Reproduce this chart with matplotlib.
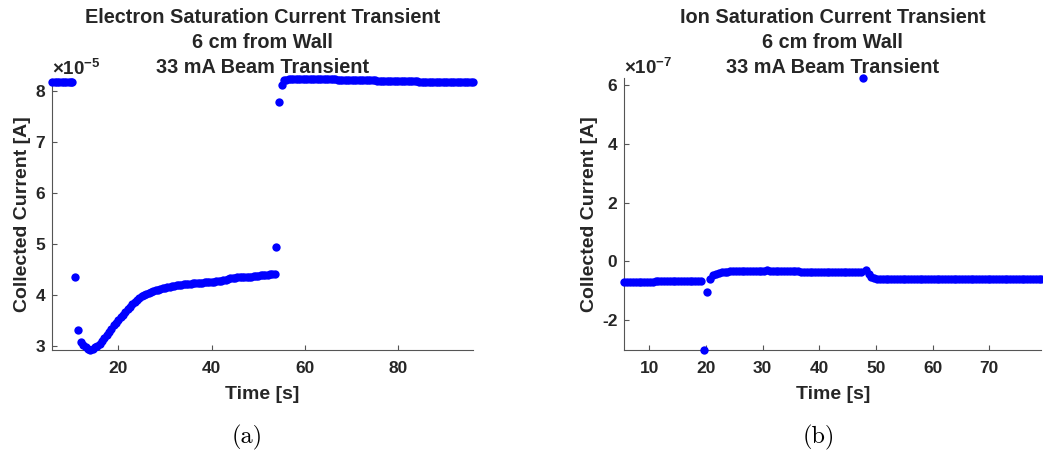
import matplotlib
matplotlib.use("Agg")
import matplotlib.pyplot as plt

plt.rcParams["font.family"] = ["Liberation Sans", "DejaVu Sans"]
plt.rcParams["mathtext.fontset"] = "custom"
plt.rcParams["mathtext.rm"] = "Liberation Sans:bold"
plt.rcParams["mathtext.bf"] = "Liberation Sans:bold"

TEXT = "#262626"
AXIS = "#555555"
BLUE = "#0000ff"

# Electron saturation current, in units of 1e-5 A
el_pre_t = [5.86, 6.36, 6.86, 7.36, 7.86, 8.36, 8.86, 9.36, 9.86, 10.1]
el_pre_i = [8.17, 8.17, 8.17, 8.16, 8.16, 8.16, 8.17, 8.16, 8.16, 8.16]

el_spike_t = [10.7, 11.4, 53.9, 54.5, 55.0]
el_spike_i = [4.35, 3.31, 4.93, 7.77, 8.10]

el_mid_t = [12.0, 12.5, 13.0, 13.5, 14.0, 14.5, 15.0, 15.5, 16.0, 16.5,
            17.0, 17.5, 18.0, 18.5, 19.0, 19.5, 20.0, 20.5, 21.0, 21.5,
            22.0, 22.5, 23.0, 23.5, 24.0, 24.5, 25.0, 25.5, 26.0, 26.5,
            27.0, 27.5, 28.0, 28.5, 29.0, 29.5, 30.0, 30.5, 31.0, 31.5,
            32.0, 32.5, 33.0, 33.5, 34.0, 34.5, 35.0, 35.5, 36.0, 36.5,
            37.0, 37.5, 38.0, 38.5, 39.0, 39.5, 40.0, 40.5, 41.0, 41.5,
            42.0, 42.5, 43.0, 43.5, 44.0, 44.5, 45.0, 45.5, 46.0, 46.5,
            47.0, 47.5, 48.0, 48.5, 49.0, 49.5, 50.0, 50.5, 51.0, 51.5,
            52.0, 52.5, 53.0, 53.5]
el_mid_i = [3.07, 3.02, 2.98, 2.94, 2.92, 2.94, 2.97, 3.00, 3.04, 3.09,
            3.15, 3.21, 3.28, 3.34, 3.40, 3.45, 3.50, 3.56, 3.61, 3.67,
            3.72, 3.77, 3.82, 3.86, 3.90, 3.94, 3.97, 3.99, 4.02, 4.04,
            4.06, 4.08, 4.09, 4.10, 4.12, 4.13, 4.14, 4.15, 4.16, 4.17,
            4.18, 4.19, 4.20, 4.20, 4.21, 4.21, 4.22, 4.22, 4.23, 4.23,
            4.24, 4.24, 4.24, 4.25, 4.25, 4.25, 4.26, 4.26, 4.27, 4.28,
            4.28, 4.29, 4.30, 4.31, 4.32, 4.33, 4.33, 4.34, 4.34, 4.34,
            4.34, 4.34, 4.34, 4.35, 4.36, 4.37, 4.37, 4.38, 4.38, 4.39,
            4.39, 4.40, 4.40, 4.40]

el_post_t = [55.5, 56.0, 56.5, 57.0, 57.5, 58.0, 58.5, 59.0, 59.5, 60.0,
             60.5, 61.0, 61.5, 62.0, 62.5, 63.0, 63.5, 64.0, 64.5, 65.0,
             65.5, 66.0, 66.5, 67.0, 67.5, 68.0, 68.5, 69.0, 69.5, 70.0,
             70.5, 71.0, 71.5, 72.0, 72.5, 73.0, 73.5, 74.0, 74.5, 75.0,
             75.5, 76.0, 76.5, 77.0, 77.5, 78.0, 78.5, 79.0, 79.5, 80.0,
             80.5, 81.0, 81.5, 82.0, 82.5, 83.0, 83.5, 84.0, 84.5, 85.0,
             85.5, 86.0, 86.5, 87.0, 87.5, 88.0, 88.5, 89.0, 89.5, 90.0,
             90.5, 91.0, 91.5, 92.0, 92.5, 93.0, 93.5, 94.0, 94.5, 95.0,
             95.5, 95.94]
el_post_i = [8.20, 8.21, 8.22, 8.225, 8.23, 8.23, 8.23, 8.23, 8.23, 8.23,
             8.23, 8.23, 8.23, 8.23, 8.23, 8.22, 8.22, 8.22, 8.22, 8.22,
             8.22, 8.22, 8.22, 8.21, 8.21, 8.21, 8.21, 8.21, 8.21, 8.21,
             8.21, 8.21, 8.20, 8.20, 8.20, 8.20, 8.20, 8.20, 8.20, 8.20,
             8.19, 8.19, 8.19, 8.19, 8.19, 8.19, 8.19, 8.19, 8.18, 8.18,
             8.18, 8.18, 8.18, 8.18, 8.18, 8.18, 8.18, 8.18, 8.17, 8.17,
             8.17, 8.17, 8.17, 8.17, 8.17, 8.17, 8.17, 8.17, 8.17, 8.17,
             8.16, 8.16, 8.16, 8.16, 8.16, 8.16, 8.16, 8.16, 8.16, 8.16,
             8.16, 8.16]

# Ion saturation current, in units of 1e-7 A
ion_pre_t = [5.6, 6.1, 6.6, 7.1, 7.6, 8.1, 8.6, 9.1, 9.6, 10.1,
             10.6, 11.1, 11.6, 12.1, 12.6, 13.1, 13.6, 14.1, 14.6, 15.1,
             15.6, 16.1, 16.6, 17.1, 17.6, 18.1, 18.6, 19.2]
ion_pre_i = [-0.715, -0.712, -0.71, -0.707, -0.705, -0.702, -0.70, -0.697,
             -0.695, -0.692, -0.69, -0.687, -0.685, -0.682, -0.68, -0.68,
             -0.68, -0.677, -0.675, -0.672, -0.67, -0.67, -0.67, -0.667,
             -0.665, -0.662, -0.66, -0.66]

ion_spike_t = [19.65, 20.2, 47.7]
ion_spike_i = [-3.02, -1.04, 6.25]

ion_mid_t = [20.8, 21.3, 21.8, 22.3, 22.8, 23.3, 23.8, 24.3, 24.8, 25.3,
             25.8, 26.3, 26.8, 27.3, 27.8, 28.3, 28.8, 29.3, 29.8, 30.3,
             30.8, 31.3, 31.8, 32.3, 32.8, 33.3, 33.8, 34.3, 34.8, 35.3,
             35.8, 36.3, 36.8, 37.3, 37.8, 38.3, 38.8, 39.3, 39.8, 40.3,
             40.8, 41.3, 41.8, 42.3, 42.8, 43.3, 43.8, 44.3, 44.8, 45.3,
             45.8, 46.3, 46.8, 47.3, 48.2]
ion_mid_i = [-0.62, -0.48, -0.42, -0.39, -0.37, -0.355, -0.35, -0.345,
             -0.34, -0.335, -0.335, -0.33, -0.33, -0.33, -0.33, -0.325,
             -0.325, -0.32, -0.32, -0.315, -0.31, -0.315, -0.32, -0.325,
             -0.33, -0.335, -0.335, -0.34, -0.34, -0.34, -0.345, -0.345,
             -0.35, -0.35, -0.35, -0.355, -0.355, -0.36, -0.365, -0.37,
             -0.37, -0.365, -0.36, -0.36, -0.36, -0.36, -0.36, -0.36,
             -0.36, -0.36, -0.36, -0.355, -0.35, -0.35, -0.30]

ion_post_t = [48.7, 49.2, 49.7, 50.2, 50.7, 51.2, 51.7, 52.2, 52.7, 53.2,
              53.7, 54.2, 54.7, 55.2, 55.7, 56.2, 56.7, 57.2, 57.7, 58.2,
              58.7, 59.2, 59.7, 60.2, 60.7, 61.2, 61.7, 62.2, 62.7, 63.2,
              63.7, 64.2, 64.7, 65.2, 65.7, 66.2, 66.7, 67.2, 67.7, 68.2,
              68.7, 69.2, 69.7, 70.2, 70.7, 71.2, 71.7, 72.2, 72.7, 73.2,
              73.7, 74.2, 74.7, 75.2, 75.7, 76.2, 76.7, 77.2, 77.7, 78.2,
              78.7, 79.2]
ion_post_i = [-0.42, -0.52, -0.57, -0.59, -0.60, -0.60, -0.605, -0.605,
              -0.61, -0.61, -0.61, -0.61, -0.61, -0.61, -0.61, -0.61,
              -0.61, -0.61, -0.61, -0.61, -0.61, -0.61, -0.61, -0.61,
              -0.61, -0.61, -0.61, -0.61, -0.61, -0.61, -0.615, -0.615,
              -0.615, -0.615, -0.615, -0.615, -0.615, -0.615, -0.615, -0.615,
              -0.615, -0.615, -0.615, -0.615, -0.615, -0.62, -0.62, -0.62,
              -0.62, -0.62, -0.62, -0.62, -0.62, -0.62, -0.62, -0.62,
              -0.62, -0.62, -0.62, -0.62, -0.62, -0.62]

el_t = el_pre_t + el_spike_t[:2] + el_mid_t + el_spike_t[2:] + el_post_t
el_i = el_pre_i + el_spike_i[:2] + el_mid_i + el_spike_i[2:] + el_post_i
ion_t = ion_pre_t + ion_spike_t[:2] + ion_mid_t + ion_spike_t[2:] + ion_post_t
ion_i = ion_pre_i + ion_spike_i[:2] + ion_mid_i + ion_spike_i[2:] + ion_post_i

title_a = ["Electron Saturation Current Transient", "6 cm from Wall",
           "33 mA Beam Transient"]
title_b = ["Ion Saturation Current Transient", "6 cm from Wall",
           "33 mA Beam Transient"]

W, H = 1043, 453


def style_axes(ax, t, i, title, exponent, xticks, yticks, tick_labels):
    ax.scatter(t, i, s=36, color=BLUE, linewidths=0, clip_on=False, zorder=3)
    ax.set_xlim(min(t), max(t))
    ax.set_ylim(min(i), max(i))
    ax.set_xticks(xticks)
    ax.set_yticks(yticks)
    ax.set_yticklabels(tick_labels)
    for side in ("top", "right"):
        ax.spines[side].set_visible(False)
    for side in ("left", "bottom"):
        ax.spines[side].set_color(AXIS)
        ax.spines[side].set_linewidth(0.8)
    ax.tick_params(direction="in", length=3.5, width=0.8, color=AXIS,
                   labelcolor=TEXT, labelsize=12.5)
    ax.tick_params(axis="x", pad=8)
    ax.tick_params(axis="y", pad=5)
    for lab in ax.get_xticklabels() + ax.get_yticklabels():
        lab.set_fontweight("bold")
    ax.set_xlabel("Time [s]", fontsize=14, fontweight="bold", color=TEXT,
                  labelpad=7)
    ax.set_ylabel("Collected Current [A]", fontsize=14, fontweight="bold",
                  color=TEXT, labelpad=3)
    ax.text(0.0, 1.0, r"$\times$" + "10" + r"$^{" + exponent + "}$",
            transform=ax.transAxes, fontsize=13.5, fontweight="bold",
            color=TEXT, ha="left", va="bottom")

    # three-line title, one text per line
    bbox = ax.get_position()
    xc = (bbox.x0 + bbox.x1) / 2
    for line, base in zip(title, [22.7, 48.3, 72.7]):
        ax.figure.text(xc, 1 - base / H, line, fontsize=14.3,
                       fontweight="bold", color=TEXT, ha="center",
                       va="baseline")


fig = plt.figure(figsize=(W / 100, H / 100), dpi=100)
ax1 = fig.add_axes([0.0501, 0.2274, 0.4031, 0.5987])
ax2 = fig.add_axes([0.5986, 0.2274, 0.3999, 0.6011])

style_axes(ax1, el_t, el_i, title_a, "-5", [20, 40, 60, 80],
           [3, 4, 5, 6, 7, 8], ["3", "4", "5", "6", "7", "8"])
style_axes(ax2, ion_t, ion_i, title_b, "-7", [10, 20, 30, 40, 50, 60, 70],
           [-2, 0, 2, 4, 6], ["-2", "0", "2", "4", "6"])

fig.text(247 / W, 1 - 437 / H, "(a)", family="cmr10", fontsize=17.5,
         ha="center", va="center", color="black")
fig.text(819 / W, 1 - 437 / H, "(b)", family="cmr10", fontsize=17.5,
         ha="center", va="center", color="black")

fig.savefig("out.png", dpi=100)
